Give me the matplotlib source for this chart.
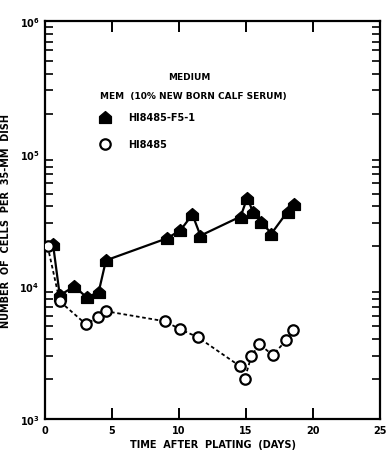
import matplotlib
matplotlib.use("Agg")
import matplotlib.pyplot as plt
import numpy as np
from matplotlib.path import Path

# Data
f5_days = [0.6, 1.1, 2.2, 3.1, 4.0, 4.55, 9.1, 10.1, 11.0, 11.6, 14.6, 15.1, 15.5, 16.1, 16.9, 18.1, 18.6]
f5_cells = [20700, 8560, 10000, 8260, 9020, 15700, 23000, 26400, 34800, 24100, 33600, 46700, 36600, 30800, 25000, 36600, 41400]

hi_days = [0.2, 1.1, 3.06, 3.96, 4.55, 8.96, 10.07, 11.4, 14.55, 14.9, 15.4, 16.0, 17.0, 18.0, 18.5]
hi_cells = [20000, 7710, 5180, 5850, 6490, 5450, 4750, 4140, 2500, 2000, 2980, 3660, 3030, 3920, 4670]

x_ticks = [0, 5, 10, 15, 20, 25]
y_ticks = [1e3, 1e4, 1e5, 1e6]
y_tick_labels = [r'$\mathbf{10^{3}}$', r'$\mathbf{10^{4}}$', r'$\mathbf{10^{5}}$', r'$\mathbf{10^{6}}$']

house = Path([(-1, -1), (1, -1), (1, 0.15), (0, 1), (-1, 0.15), (-1, -1)],
             [Path.MOVETO, Path.LINETO, Path.LINETO, Path.LINETO, Path.LINETO, Path.CLOSEPOLY])

fig = plt.figure(figsize=(3.88, 4.52), dpi=100)
ax = fig.add_axes([45/388, 1-420/452, 335/388, (420-22)/452])

ax.plot(hi_days, hi_cells, color='black', linestyle=(0, (2, 1.5)), linewidth=1.3,
        marker='o', markersize=7.5, markerfacecolor='white', markeredgewidth=1.6, zorder=3)
ax.plot(f5_days, f5_cells, color='black', linestyle='-', linewidth=1.6,
        marker=house, markersize=8.5, markerfacecolor='black', zorder=2)

ax.set_yscale('log')
ax.set_xlim(0, 25)
ax.set_ylim(1e3, 1e6)
ax.set_xticks(x_ticks)
ax.set_xticklabels([str(t) for t in x_ticks], fontweight='bold', fontsize=7)
ax.set_yticks(y_ticks)
ax.set_yticklabels(y_tick_labels, fontsize=7)
ax.yaxis.set_minor_locator(matplotlib.ticker.LogLocator(base=10, subs=np.arange(2, 10)))
ax.yaxis.set_minor_formatter(matplotlib.ticker.NullFormatter())
ax.tick_params(axis='both', which='major', direction='in', length=8, width=1.4,
               top=True, right=True, pad=4)
ax.tick_params(axis='y', which='major', length=0)
ax.tick_params(axis='y', which='minor', direction='in', length=6, width=1.2, left=True, right=True)
for s in ax.spines.values():
    s.set_linewidth(1.6)

ax.set_xlabel('TIME  AFTER  PLATING  (DAYS)', fontsize=7, fontweight='bold', labelpad=3)
ax.set_ylabel('NUMBER  OF  CELLS  PER  35-MM  DISH', fontsize=7, fontweight='bold', labelpad=6)

# Legend drawn as text
fig.text(189/388, 1-77/452, 'MEDIUM', fontsize=6.5, fontweight='bold', ha='center', va='center')
fig.text(100/388, 1-96/452, 'MEM  (10% NEW BORN CALF SERUM)', fontsize=6.5, fontweight='bold', ha='left', va='center')
fig.lines.append(plt.Line2D([105/388], [1-118/452], transform=fig.transFigure, marker=house,
                            markersize=8.5, color='black', linestyle='none'))
fig.lines.append(plt.Line2D([105/388], [1-145/452], transform=fig.transFigure, marker='o',
                            markersize=7.5, markerfacecolor='white', markeredgecolor='black',
                            markeredgewidth=1.6, linestyle='none'))
fig.text(128/388, 1-118/452, 'HI8485-F5-1', fontsize=7, fontweight='bold', ha='left', va='center')
fig.text(128/388, 1-145/452, 'HI8485', fontsize=7, fontweight='bold', ha='left', va='center')

fig.savefig('out.png', dpi=100)
